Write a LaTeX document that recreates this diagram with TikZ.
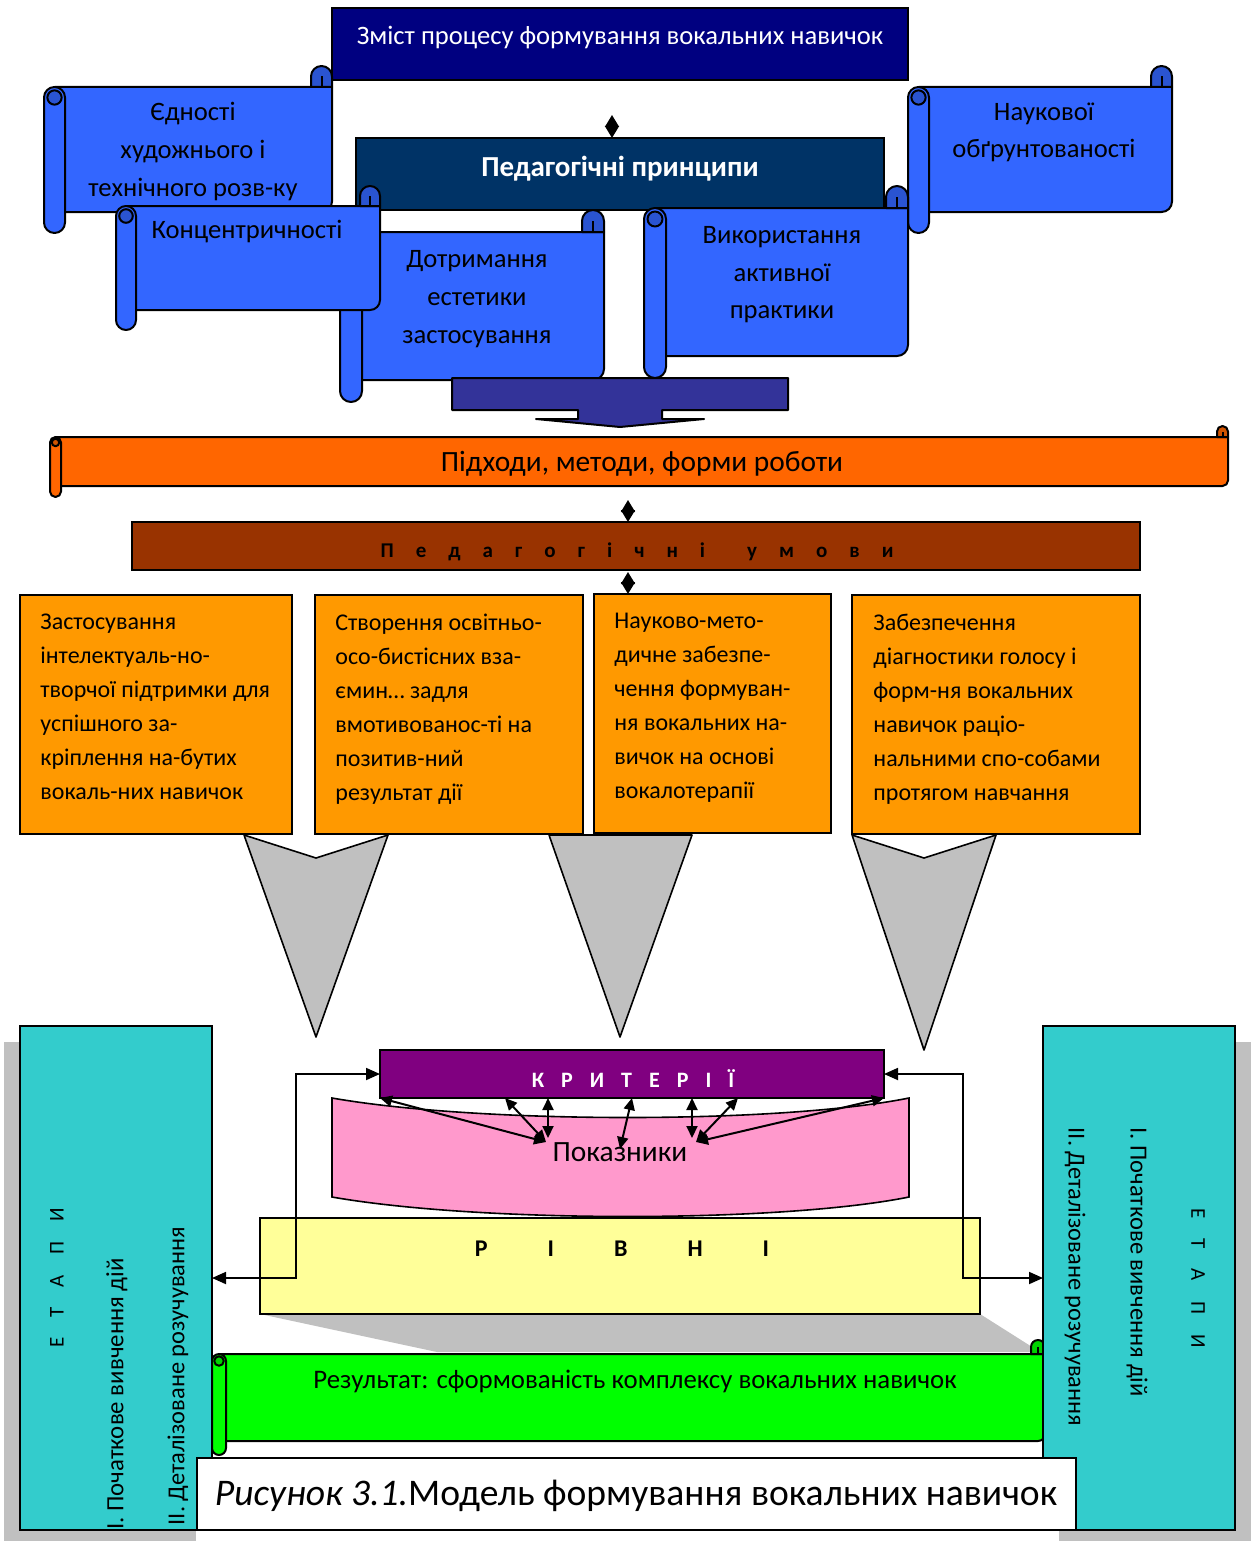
\documentclass[tikz,border=0pt]{standalone}
\usepackage{fontspec}
\setmainfont{Carlito}
\usetikzlibrary{arrows.meta}
\definecolor{navyc}{HTML}{000080}
\definecolor{pedc}{HTML}{003366}
\definecolor{scrollc}{HTML}{3366FF}
\definecolor{arrc}{HTML}{333399}
\definecolor{orc}{HTML}{FF6600}
\definecolor{brc}{HTML}{993300}
\definecolor{obc}{HTML}{FF9900}
\definecolor{greyc}{HTML}{C0C0C0}
\definecolor{purc}{HTML}{800080}
\definecolor{pinkc}{HTML}{FF99CC}
\definecolor{yelc}{HTML}{FFFF99}
\definecolor{grc}{HTML}{00FF00}
\definecolor{cyc}{HTML}{33CCCC}
\tikzset{
  sline/.style={draw=black, line width=1pt, line join=round},
  pbox/.style={draw=black, line width=1pt, inner sep=0pt, outer sep=0pt, anchor=north west},
  txt/.style={inner sep=0pt, align=center},
  smallarr/.style={line width=0.8pt, {Triangle[length=6pt,width=7pt]}-{Triangle[length=6pt,width=7pt]}},
  karr/.style={line width=1pt, {Triangle[length=6pt,width=5.5pt]}-{Triangle[length=6pt,width=5.5pt]}},
  biarrow/.style={line width=0.9pt, {Triangle[length=7pt,width=6pt]}-{Triangle[length=7pt,width=6pt]}},
}
\newcommand\hscroll[6]{%
  \pgfmathsetmacro\scH{#5/2}%
  \pgfmathsetmacro\scC{#5/4}%
  \pgfmathsetmacro\scQ{#5*0.17}%
  \filldraw[sline, fill=#6] (#1+\scH,#2+#5) -- (#3,#2+#5) -- (#3,#4-#5-\scH) arc[start angle=0,end angle=-90,radius=\scC pt] -- (#1+\scH,#4-#5) -- cycle;
  \filldraw[sline, fill=#6!82!black] (#3-#5,#2+#5) -- (#3-#5,#2+\scH) arc[start angle=180,end angle=0,radius=\scC pt] -- (#3,#2+#5) -- cycle;
  \draw[sline] (#3-\scH,#2+#5) -- (#3-\scH,#2+\scH);
  \filldraw[sline, fill=#6, rounded corners=\scC pt] (#1,#2+#5) rectangle (#1+#5,#4);
  \filldraw[sline, fill=#6!82!black] (#1+\scH,#2+#5+\scH) circle[radius=\scQ pt];
}
\newcommand\pbx[6]{%
  \pgfmathsetmacro\pbW{(#4-#2)/2}\pgfmathsetmacro\pbH{(#5-#3)/2}%
  \node[pbox, fill=#6, minimum width=\pbW pt, minimum height=\pbH pt] (#1) at (#2,#3) {};%
}
\newcommand\gs{\hspace{11pt}}
\begin{document}
\begin{tikzpicture}[x=0.5pt,y=-0.5pt]
\useasboundingbox (0,0) rectangle (1254,1541);
\fill[white] (0,0) rectangle (1254,1541);

% ---------- top ----------
\pbx{zmist}{332}{8}{908}{80}{navyc}
\node[txt, text=white, font=\fontsize{13.3pt}{15pt}\selectfont] (tzmist) at (620,38) {Зміст процесу формування вокальних навичок};

\hscroll{44}{66}{332}{233}{21}{scrollc}
\node[txt, font=\fontsize{13.3pt}{19pt}\selectfont] (tedn) at (193,151) {Єдності\\художнього і\\технічного розв-ку};

\hscroll{908}{66}{1172}{233}{21}{scrollc}
\node[txt, font=\fontsize{13.3pt}{18.5pt}\selectfont] (tnauk) at (1044,132) {Наукової\\обґрунтованості};

\pbx{ped}{356}{138}{884}{210}{pedc}
\node[txt, text=white, font=\fontsize{14.5pt}{16pt}\selectfont\bfseries] (tped) at (620,169) {Педагогічні принципи};

\coordinate (s1) at (612,115);
\draw[smallarr] (s1) -- (s1 |- ped.north);

\hscroll{340}{210}{604}{402}{22}{scrollc}
\node[txt, font=\fontsize{13.3pt}{19pt}\selectfont] (tdotr) at (477,299) {Дотримання\\естетики\\застосування};

\hscroll{644}{186}{908}{378}{22}{scrollc}
\node[txt, font=\fontsize{13.3pt}{18.7pt}\selectfont] (tvyk) at (782,275) {Використання\\активної\\практики};

\hscroll{116}{186}{380}{330}{20}{scrollc}
\node[txt, font=\fontsize{13.3pt}{19pt}\selectfont] (tkonc) at (247,232) {Концентричності};

% block arrow
\filldraw[sline, fill=arrc] (452,378) -- (788,378) -- (788,410) -- (662,410) -- (662,419) -- (704,419) -- (620,427) -- (536,419) -- (578,419) -- (578,410) -- (452,410) -- cycle;

% ---------- middle ----------
\hscroll{50}{426}{1228}{497}{11}{orc}
\node[txt, font=\fontsize{14.7pt}{17pt}\selectfont] (tpidh) at (642,464) {Підходи, методи, форми роботи};

\pbx{umovy}{132}{522}{1140}{570}{brc}
\node[txt, font=\fontsize{10.5pt}{12pt}\selectfont\bfseries] (tumovy) at (637,552) {П\gs е\gs д\gs а\gs г\gs о\gs г\gs і\gs ч\gs н\gs і\hspace{21pt}у\gs м\gs о\gs в\gs и};

\coordinate (s2) at (628,500);
\draw[smallarr] (s2) -- (s2 |- umovy.north);

\pbx{b1}{20}{595}{292}{834}{obc}
\pbx{b2}{315}{595}{583}{834}{obc}
\pbx{b3}{594}{594}{831}{833}{obc}
\pbx{b4}{852}{595}{1140}{834}{obc}

\coordinate (s3) at (628,572);
\draw[smallarr] (s3) -- (s3 |- b3.north);

\tikzset{otxt/.style={inner sep=0pt, align=left, anchor=north west, font=\fontsize{12pt}{17pt}\selectfont}}
\node[otxt] (tb1) at (40,614) {Застосування\\інтелектуаль-но-\\творчої підтримки для\\успішного за-\\кріплення на-бутих\\вокаль-них навичок};
\node[otxt] (tb2) at (335,614) {Створення освітньо-\\осо-бистісних вза-\\ємин… задля\\вмотивованос-ті на\\позитив-ний\\результат дії};
\node[otxt] (tb3) at (614,613) {Науково-мето-\\дичне забезпе-\\чення формуван-\\ня вокальних на-\\вичок на основі\\вокалотерапії};
\node[otxt] (tb4) at (873,614) {Забезпечення\\діагностики голосу і\\форм-ня вокальних\\навичок раціо-\\нальними спо-собами\\протягом навчання};

% grey arrows
\filldraw[sline, line width=0.8pt, fill=greyc] (244,835) -- (316,858) -- (388,835) -- (316,1037) -- cycle;
\filldraw[sline, line width=0.8pt, fill=greyc] (549,835) -- (692,835) -- (620,1037) -- cycle;
\filldraw[sline, line width=0.8pt, fill=greyc] (852,835) -- (924,858) -- (996,835) -- (924,1050) -- cycle;

% ---------- bottom ----------
\fill[greyc] (4,1042) rectangle (196,1541);
\fill[greyc] (1059,1042) rectangle (1251,1541);
\fill[greyc] (260,1314) -- (980,1314) -- (1040,1352) -- (437,1352) -- cycle;

\pbx{riv}{260}{1218}{980}{1314}{yelc}
\node[txt, font=\fontsize{12pt}{14pt}\selectfont\bfseries] (triv) at (622,1249) {Р\hspace{30pt}І\hspace{30pt}В\hspace{30pt}Н\hspace{30pt}І};

\filldraw[line width=0.8pt, draw=black, fill=pinkc] (332,1098) .. controls (480,1124) and (780,1124) .. (909,1098) -- (909,1197) .. controls (780,1223) and (480,1223) .. (332,1197) -- cycle;
\node[txt, font=\fontsize{14.7pt}{17pt}\selectfont] (tpok) at (620,1152) {Показники};

\pbx{krit}{380}{1050}{884}{1098}{purc}
\node[txt, text=white, font=\fontsize{11pt}{13pt}\selectfont\bfseries] (tkrit) at (633,1079) {К\hspace{8.5pt}Р\hspace{8.5pt}И\hspace{8.5pt}Т\hspace{8.5pt}Е\hspace{8.5pt}Р\hspace{8.5pt}І\hspace{8.5pt}Ї};

\coordinate (pl) at (546,1142);
\coordinate (pr) at (696,1142);
\coordinate (pc) at (620,1149);
\coordinate (k2) at (505,1098);
\coordinate (k3) at (548,1098);
\coordinate (k5) at (692,1098);
\coordinate (k6) at (738,1098);
\coordinate (p3) at (548,1138);
\coordinate (p5) at (692,1138);
\draw[karr] (krit.south west) -- (pl);
\draw[karr] (k2) -- (pl);
\draw[karr] (k3) -- (p3);
\draw[karr] (krit.south) -- (pc);
\draw[karr] (k5) -- (p5);
\draw[karr] (k6) -- (pr);
\draw[karr] (krit.south east) -- (pr);

\hscroll{212}{1340}{1045}{1455}{14}{grc}
\node[txt, font=\fontsize{13.4pt}{15pt}\selectfont] (tres) at (635,1381) {Результат: сформованість комплексу вокальних навичок};

\pbx{etL}{20}{1026}{212}{1530}{cyc}
\pbx{etR}{1043}{1026}{1235}{1530}{cyc}

\node[txt, rotate=90, font=\fontsize{10.5pt}{12pt}\selectfont] (etL1) at (57,1278) {Е\hspace{10pt}Т\hspace{10pt}А\hspace{10pt}П\hspace{10pt}И};
\node[txt, rotate=90, font=\fontsize{12.4pt}{14pt}\selectfont] (etL2) at (117,1394) {І. Початкове вивчення дій};
\node[txt, rotate=90, font=\fontsize{12.2pt}{14pt}\selectfont] (etL3) at (178,1376) {ІІ. Деталізоване розучування};

\node[txt, rotate=-90, font=\fontsize{10.5pt}{12pt}\selectfont] (etR1) at (1198,1278) {Е\hspace{10pt}Т\hspace{10pt}А\hspace{10pt}П\hspace{10pt}И};
\node[txt, rotate=-90, font=\fontsize{12.3pt}{14pt}\selectfont] (etR2) at (1137,1262) {І. Початкове вивчення дій};
\node[txt, rotate=-90, font=\fontsize{12.2pt}{14pt}\selectfont] (etR3) at (1075,1277) {ІІ. Деталізоване розучування};

\coordinate (cL) at (296,1278);
\coordinate (cR) at (963,1278);
\draw[biarrow] (etL.east |- cL) -- (cL) |- (krit.west);
\draw[biarrow] (etR.west |- cR) -- (cR) |- (krit.east);

\pbx{cap}{197}{1458}{1076}{1530}{white}
\node[txt, font=\fontsize{18.8pt}{22pt}\selectfont] (tcap) at (636,1496) {\textit{Рисунок 3.1.}Модель формування вокальних навичок};
\end{tikzpicture}
\end{document}
